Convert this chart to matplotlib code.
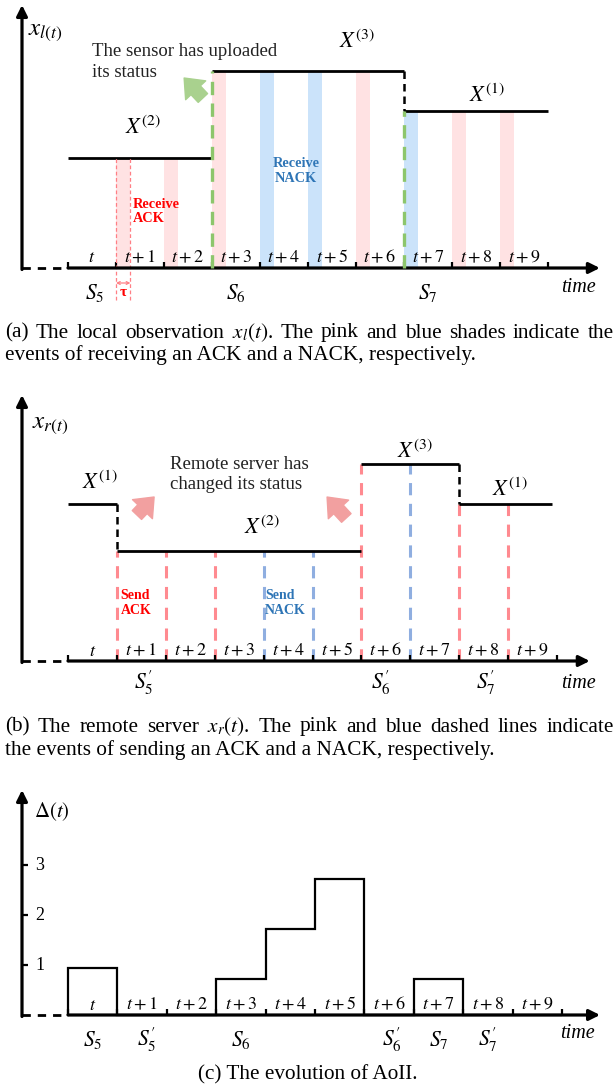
import matplotlib.pyplot as plt
from matplotlib.patches import Rectangle, FancyArrowPatch

plt.rcParams['font.family'] = ['Liberation Serif', 'DejaVu Serif']
plt.rcParams['mathtext.fontset'] = 'stix'

# data
slot_labels = ['$t$', '$t+1$', '$t+2$', '$t+3$', '$t+4$', '$t+5$', '$t+6$', '$t+7$', '$t+8$', '$t+9$']
slot_edges = list(range(11))
event_slots = [1, 2, 3, 4, 5, 6, 7, 8, 9]
event_type = ['ACK', 'ACK', 'ACK', 'NACK', 'NACK', 'ACK', 'NACK', 'ACK', 'ACK']
level_height = {1: 1.57, 2: 1.10, 3: 1.97}

local_starts = [0, 3, 7]
local_ends = [3, 7, 10]
local_states = [2, 3, 1]

remote_starts = [0, 1, 6, 8]
remote_ends = [1, 6, 8, 9.9]
remote_states = [1, 2, 3, 1]

aoii_values = [0.95, 0, 0, 0.72, 1.72, 2.72, 0, 0.73, 0, 0]
aoii_ticks = [1, 2, 3]

local_marks = ['$S_5$', '$S_6$', '$S_7$']
local_marks_x = [0.55, 3.5, 7.5]
remote_marks = [r'$S_5^{\prime}$', r'$S_6^{\prime}$', r'$S_7^{\prime}$']
remote_marks_x = [1.55, 6.4, 8.55]
aoii_marks = ['$S_5$', r'$S_5^{\prime}$', '$S_6$', r'$S_6^{\prime}$', '$S_7$', r'$S_7^{\prime}$']
aoii_marks_x = [0.5, 1.6, 3.5, 6.55, 7.5, 8.5]

PINK_SHADE = '#FFE2E3'
BLUE_SHADE = '#CBE3FA'
PINK_LINE = '#FF8A90'
BLUE_LINE = '#8FAEE0'
GREEN = '#8DC66C'

W, H = 616, 1089
fig = plt.figure(figsize=(W / 100, H / 100), dpi=100)


def make_panel(top, bottom, x0, slot, y0, unit):
    ax = fig.add_axes([0, 1 - bottom / H, 1, (bottom - top) / H])
    ax.set_xlim(-x0 / slot, (W - x0) / slot)
    ax.set_ylim(-(bottom - y0) / unit, (y0 - top) / unit)
    ax.axis('off')
    return ax


def level_at(k, starts, ends, states):
    for s, e, st in zip(starts, ends, states):
        if s <= k < e:
            return level_height[st]
    return level_height[states[-1]]


def draw_frame(ax, unit, slot, x_end, y_top):
    y_left = (22 - 68) / slot
    ax.plot([y_left, 0], [0, 0], color='k', lw=2, dashes=(3, 2.5))
    arrow = dict(arrowstyle='-|>', color='k', lw=2.3, mutation_scale=16, shrinkA=0, shrinkB=0)
    ax.annotate('', xy=(x_end, 0), xytext=(0, 0), arrowprops=arrow)
    ax.annotate('', xy=(y_left, y_top), xytext=(y_left, -1.5 / unit), arrowprops=arrow)
    ax.vlines(slot_edges, 0, 6 / unit, color='k', lw=1.6)
    for i, lab in enumerate(slot_labels):
        ax.text(i + 0.5, 10 / unit, lab, ha='center', va='center', fontsize=13)
    return y_left


def draw_levels(ax, starts, ends, states):
    hs = [level_height[s] for s in states]
    ax.hlines(hs, starts, ends, color='k', lw=2)
    for i in range(1, len(states)):
        if hs[i - 1] > hs[i]:
            ax.plot([starts[i], starts[i]], [hs[i - 1], hs[i]], color='k', lw=1.8, dashes=(3, 2))


def fat_arrow(ax, tail, head, color):
    ax.add_patch(FancyArrowPatch(tail, head, color=color, mutation_scale=22,
                                 arrowstyle='simple,head_length=0.55,head_width=0.9,tail_width=0.42'))


def justified(text, x0, x1, y, size):
    # spread the words of a caption line between x0 and x1 (pixels)
    words = text.split(' ')
    items = [fig.text(0, 1 - y / H, w, fontsize=size, va='center') for w in words]
    r = fig.canvas.get_renderer()
    widths = [t.get_window_extent(r).width for t in items]
    gap = (x1 - x0 - sum(widths)) / (len(words) - 1)
    x = x0
    for t, w in zip(items, widths):
        t.set_x(x / W)
        x += w + gap


# ---------------- (a) local observation ----------------
ax = make_panel(0, 310, 68, 48, 268, 100)
draw_frame(ax, 100, 48, 11.08, 2.63)
draw_levels(ax, local_starts, local_ends, local_states)
shade_w = 0.3
for k, typ in zip(event_slots, event_type):
    h = level_at(k, local_starts, local_ends, local_states)
    ax.add_patch(Rectangle((k, 0), shade_w, h, lw=0, zorder=0,
                           color=PINK_SHADE if typ == 'ACK' else BLUE_SHADE))
# uploads at state changes
for i in range(1, len(local_states)):
    h = level_height[local_states[i]]
    ax.plot([local_starts[i]] * 2, [0, h], color=GREEN, lw=2.4, dashes=(4, 2.5), zorder=3)
# tau marker on the first ACK
k0 = event_slots[0]
h0 = level_at(k0, local_starts, local_ends, local_states)
for xx in [k0, k0 + shade_w]:
    ax.plot([xx, xx], [-0.32, h0], color='#FF7F85', lw=0.9, dashes=(3, 2))
ax.annotate('', xy=(k0, -0.15), xytext=(k0 + shade_w, -0.15),
            arrowprops=dict(arrowstyle='<->', color='#FF7F85', lw=0.9, mutation_scale=5, shrinkA=0, shrinkB=0))
ax.text(k0 + shade_w / 2, -0.25, 'τ', color='red', fontweight='bold', fontsize=11, ha='center', va='center')

ax.text(1.56, 1.40, '$X^{(2)}$', fontsize=16, ha='center', va='center')
ax.text(6.02, 2.26, '$X^{(3)}$', fontsize=16, ha='center', va='center')
ax.text(8.73, 1.72, '$X^{(1)}$', fontsize=16, ha='center', va='center')
ax.text(-0.83, 2.36, '$x_{l(t)}$', fontsize=18, ha='left', va='center')
ax.text(0.5, 2.06, 'The sensor has uploaded\nits status', fontsize=13.5, ha='left', va='center',
        linespacing=1.25, color='#222222')
fat_arrow(ax, (2.85, 1.68), (2.38, 1.92), '#A9D18E')
ax.text(1.35, 0.565, 'Receive\nACK', color='red', fontweight='bold', fontsize=10.3,
        ha='left', va='center', linespacing=1.15)
ax.text(4.75, 0.97, 'Receive\nNACK', color='#2E75B6', fontweight='bold', fontsize=10.3,
        ha='center', va='center', linespacing=1.15)
for lab, xx in zip(local_marks, local_marks_x):
    ax.text(xx, -0.25, lab, fontsize=15.5, ha='center', va='center')
ax.text(10.63, -0.19, 'time', fontsize=14.5, style='italic', ha='center', va='center')

# ---------------- (b) remote server ----------------
ax = make_panel(380, 700, 68, 48.9, 661, 100)
draw_frame(ax, 100, 48.9, 10.67, 2.66)
draw_levels(ax, remote_starts, remote_ends, remote_states)
for k, typ in zip(event_slots, event_type):
    h = level_at(k, remote_starts, remote_ends, remote_states)
    ax.plot([k, k], [0, h], color=PINK_LINE if typ == 'ACK' else BLUE_LINE,
            lw=2.2, dashes=(4, 2.8), zorder=1)
ax.text(0.65, 1.78, '$X^{(1)}$', fontsize=16, ha='center', va='center')
ax.text(3.97, 1.33, '$X^{(2)}$', fontsize=16, ha='center', va='center')
ax.text(7.1, 2.09, '$X^{(3)}$', fontsize=16, ha='center', va='center')
ax.text(9.04, 1.71, '$X^{(1)}$', fontsize=16, ha='center', va='center')
ax.text(-0.74, 2.36, '$x_{r(t)}$', fontsize=18, ha='left', va='center')
ax.text(2.09, 1.865, 'Remote server has\nchanged its status', fontsize=13.5, ha='left', va='center',
        linespacing=1.25, color='#222222')
fat_arrow(ax, (1.37, 1.44), (1.80, 1.66), '#F2A0A0')
fat_arrow(ax, (5.73, 1.41), (5.26, 1.66), '#F2A0A0')
ax.text(1.08, 0.58, 'Send\nACK', color='red', fontweight='bold', fontsize=10,
        ha='left', va='center', linespacing=1.15)
ax.text(4.03, 0.58, 'Send\nNACK', color='#2E75B6', fontweight='bold', fontsize=10,
        ha='left', va='center', linespacing=1.15)
for lab, xx in zip(remote_marks, remote_marks_x):
    ax.text(xx, -0.22, lab, fontsize=15.5, ha='center', va='center')
ax.text(10.43, -0.22, 'time', fontsize=14.5, style='italic', ha='center', va='center')

# ---------------- (c) AoII ----------------
ax = make_panel(770, 1060, 68, 49.4, 1015, 50)
y_left = draw_frame(ax, 50, 49.4, 10.77, 4.5)
ax.stairs(aoii_values, slot_edges, baseline=0, color='k', lw=1.6)
ax.hlines(aoii_ticks, y_left, y_left + 6 / 49.4, color='k', lw=1.6)
for v in aoii_ticks:
    ax.text(-0.57, v, str(v), fontsize=13, ha='center', va='center')
ax.text(-0.68, 4.06, r'$\Delta(t)$', fontsize=15, ha='left', va='center')
for lab, xx in zip(aoii_marks, aoii_marks_x):
    ax.text(xx, -0.5, lab, fontsize=15.5, ha='center', va='center')
ax.text(10.32, -0.36, 'time', fontsize=14.5, style='italic', ha='center', va='center')

# captions
CAP = 15.3
justified('(a) The local observation $x_l(t)$. The pink and blue shades indicate the', 5, 614, 333, CAP)
fig.text(5 / W, 1 - 355 / H, 'events of receiving an ACK and a NACK, respectively.', fontsize=CAP, va='center')
justified('(b) The remote server $x_r(t)$. The pink and blue dashed lines indicate', 5, 614, 727, CAP)
fig.text(5 / W, 1 - 750 / H, 'the events of sending an ACK and a NACK, respectively.', fontsize=CAP, va='center')
fig.text(308 / W, 1 - 1075 / H, '(c) The evolution of AoII.', ha='center', fontsize=CAP, va='center')

fig.savefig('out.png', dpi=100)
